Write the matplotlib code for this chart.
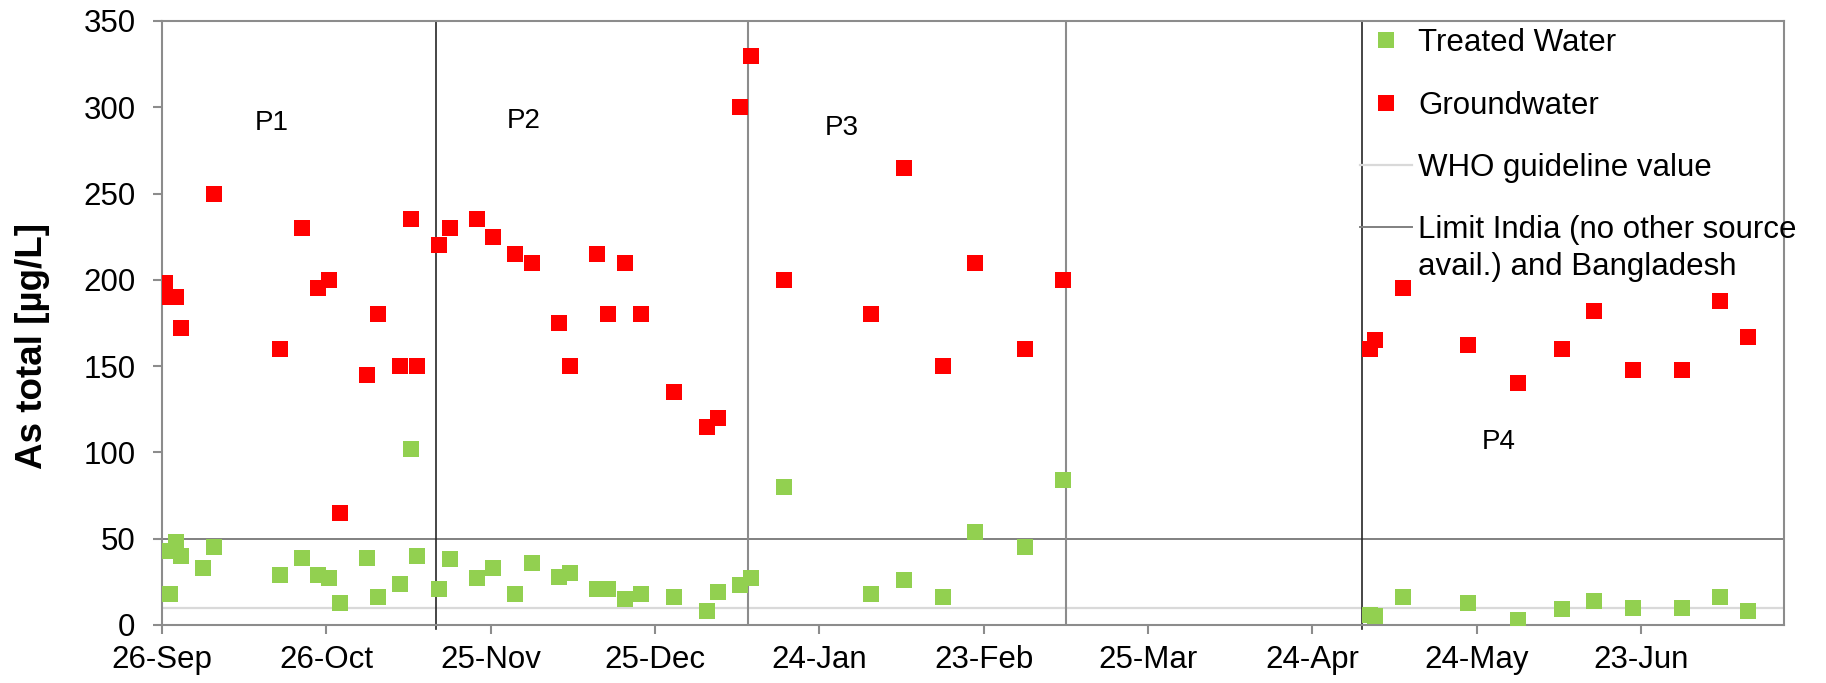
import matplotlib
matplotlib.use('Agg')
import matplotlib.pyplot as plt
import matplotlib.dates as mdates
from matplotlib.lines import Line2D
import pandas as pd

plt.rcParams['font.family'] = ['Liberation Sans', 'DejaVu Sans']

# ---------------- data ----------------
tw_dates = ['2009-09-26', '2009-09-27', '2009-09-28', '2009-09-29', '2009-10-03', '2009-10-05',
            '2009-10-17', '2009-10-21', '2009-10-24', '2009-10-26', '2009-10-28', '2009-11-02',
            '2009-11-04', '2009-11-08', '2009-11-10', '2009-11-11', '2009-11-15', '2009-11-17',
            '2009-11-22', '2009-11-25', '2009-11-29', '2009-12-02', '2009-12-07', '2009-12-09',
            '2009-12-14', '2009-12-16', '2009-12-19', '2009-12-22', '2009-12-28', '2010-01-03',
            '2010-01-05', '2010-01-09', '2010-01-11', '2010-01-17', '2010-02-02', '2010-02-08',
            '2010-02-15', '2010-02-21', '2010-03-02', '2010-03-09',
            '2010-05-04', '2010-05-05', '2010-05-10', '2010-05-22', '2010-05-31', '2010-06-08',
            '2010-06-14', '2010-06-21', '2010-06-30', '2010-07-07', '2010-07-12']
tw_values = [43, 18, 48, 40, 33, 45,
             29, 39, 29, 27, 13, 39,
             16, 24, 102, 40, 21, 38,
             27, 33, 18, 36, 28, 30,
             21, 21, 15, 18, 16, 8,
             19, 23, 27, 80, 18, 26,
             16, 54, 45, 84,
             6, 5, 16, 13, 3, 9,
             14, 10, 10, 16, 8]

gw_dates = ['2009-09-26', '2009-09-27', '2009-09-28', '2009-09-29', '2009-10-05',
            '2009-10-17', '2009-10-21', '2009-10-24', '2009-10-26', '2009-10-28', '2009-11-02',
            '2009-11-04', '2009-11-08', '2009-11-10', '2009-11-11', '2009-11-15', '2009-11-17',
            '2009-11-22', '2009-11-25', '2009-11-29', '2009-12-02', '2009-12-07', '2009-12-09',
            '2009-12-14', '2009-12-16', '2009-12-19', '2009-12-22', '2009-12-28', '2010-01-03',
            '2010-01-05', '2010-01-09', '2010-01-11', '2010-01-17', '2010-02-02', '2010-02-08',
            '2010-02-15', '2010-02-21', '2010-03-02', '2010-03-09',
            '2010-05-04', '2010-05-05', '2010-05-10', '2010-05-22', '2010-05-31', '2010-06-08',
            '2010-06-14', '2010-06-21', '2010-06-30', '2010-07-07', '2010-07-12']
gw_values = [198, 190, 190, 172, 250,
             160, 230, 195, 200, 65, 145,
             180, 150, 235, 150, 220, 230,
             235, 225, 215, 210, 175, 150,
             215, 180, 210, 180, 135, 115,
             120, 300, 330, 200, 180, 265,
             150, 210, 160, 200,
             160, 165, 195, 162, 140, 160,
             182, 148, 148, 188, 167]

tick_dates = ['2009-09-26', '2009-10-26', '2009-11-25', '2009-12-25', '2010-01-24',
              '2010-02-23', '2010-03-25', '2010-04-24', '2010-05-24', '2010-06-23']
tick_labels = ['26-Sep', '26-Oct', '25-Nov', '25-Dec', '24-Jan',
               '23-Feb', '25-Mar', '24-Apr', '24-May', '23-Jun']

phase_dark_dates = ['2009-11-15', '2010-05-03']
phase_grey_dates = ['2010-01-11', '2010-03-10']
phase_labels = ['P1', 'P2', 'P3', 'P4']
phase_label_dates = ['2009-10-16', '2009-12-01', '2010-01-28', '2010-05-28']
phase_label_values = [291, 292, 288, 106]

who_guideline = 10
limit_india = 50

series_labels = ['Treated Water', 'Groundwater', 'WHO guideline value',
                 'Limit India (no other source', 'avail.) and Bangladesh']

x_start = '2009-09-26'
x_span_days = 296.1

# ---------------- styling ----------------
GREEN = '#92D050'
RED = '#FF0000'
AXIS_GREY = '#8c8c8c'
W, H = 1826, 683


def dnum(lst):
    return mdates.date2num(pd.to_datetime(lst).to_pydatetime())


fig = plt.figure(figsize=(W / 100, H / 100), dpi=100)
ax = fig.add_axes([162 / W, 58 / H, (1784 - 162) / W, (625 - 21) / H])

x0 = dnum([x_start])[0]
ax.set_xlim(x0, x0 + x_span_days)
ax.set_ylim(0, 350)

# reference lines
ax.axhline(who_guideline, color='#D9D9D9', lw=1.6, zorder=1)
ax.axhline(limit_india, color='#808080', lw=1.4, zorder=1)
for d in dnum(phase_grey_dates):
    ax.axvline(d, color='#8c8c8c', lw=1.5, zorder=1)
for d in dnum(phase_dark_dates):
    ax.axvline(d, ymin=-0.006, ymax=1, color='#262626', lw=1.2, zorder=1, clip_on=False)

# points (Excel date axis centres points in their day)
ax.plot(dnum(tw_dates) + 0.5, tw_values, linestyle='none', marker='s', markersize=11.3,
        markeredgewidth=0, color=GREEN, zorder=3)
ax.plot(dnum(gw_dates) + 0.5, gw_values, linestyle='none', marker='s', markersize=11.3,
        markeredgewidth=0, color=RED, zorder=3)

for lab, d, v in zip(phase_labels, dnum(phase_label_dates), phase_label_values):
    ax.text(d, v, lab, ha='center', va='center', fontsize=20, color='black')

# axes styling
for s in ax.spines.values():
    s.set_color(AXIS_GREY)
    s.set_linewidth(1.5)
ax.set_xticks(dnum(tick_dates))
ax.set_xticklabels(tick_labels)
ax.set_yticks(range(0, 351, 50))
ax.tick_params(axis='both', direction='out', length=6.5, width=1.5, color=AXIS_GREY,
               labelsize=22.5, labelcolor='black')
ax.tick_params(axis='y', pad=12.5)
ax.tick_params(axis='x', pad=8)
ax.set_ylabel('As total [µg/L]', fontsize=26.5, fontweight='bold')
ax.yaxis.set_label_coords((50 - 162) / (1784 - 162), (625 - 346) / (625 - 21))

# legend
handles = [
    Line2D([], [], linestyle='none', marker='s', markersize=11.3, markeredgewidth=0, color=GREEN),
    Line2D([], [], linestyle='none', marker='s', markersize=11.3, markeredgewidth=0, color=RED),
    Line2D([], [], color='#D9D9D9', lw=1.6),
    Line2D([], [], color='#808080', lw=1.4),
]
FS = 22.5
anchor_x, anchor_y = 1360 / W, 659 / H


def make_legend(ay):
    return fig.legend(handles, series_labels[:4], loc='upper left',
                      bbox_to_anchor=(anchor_x, ay), bbox_transform=fig.transFigure,
                      frameon=False, fontsize=FS, borderpad=0, borderaxespad=0,
                      handlelength=1.66, handletextpad=0.2, labelspacing=1.03)


leg = make_legend(anchor_y)
fig.canvas.draw()
# align first legend baseline with reference (baseline ~52 px from top)
descent = 0.212 * FS * 100 / 72
target_y0 = H - (51.7 + descent)
bb0 = leg.get_texts()[0].get_window_extent()
shift = (target_y0 - bb0.y0) / H
leg.remove()
leg = make_legend(anchor_y + shift)
fig.canvas.draw()

t4 = leg.get_texts()[3]
bb = t4.get_window_extent()
fig.text(bb.x0 / W, (bb.y0 - 37) / H, series_labels[4],
         ha='left', va='bottom', fontsize=FS, color='black')

fig.savefig('out.png', dpi=100)
